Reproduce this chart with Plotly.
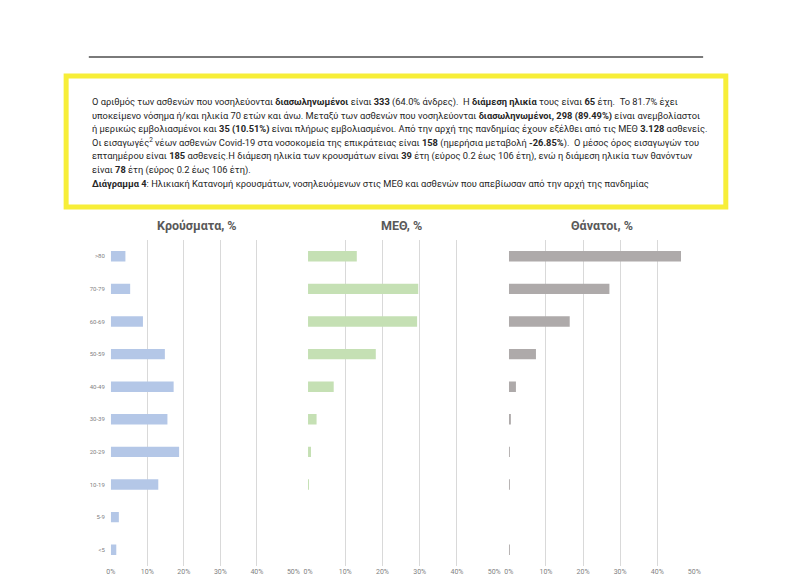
import plotly.graph_objects as go

W, H = 789, 588

age_groups = [">80", "70-79", "60-69", "50-59", "40-49", "30-39", "20-29", "10-19", "5-9", "<5"]
cases_pct = [4.0, 5.3, 8.8, 14.8, 17.2, 15.5, 18.7, 13.0, 2.2, 1.5]
icu_pct = [13.1, 29.6, 29.3, 18.2, 6.9, 2.3, 0.8, 0.15, 0.0, 0.0]
deaths_pct = [46.4, 27.1, 16.4, 7.3, 1.9, 0.5, 0.15, 0.1, 0.0, 0.1]
panel_titles = ["Κρούσματα, %", "ΜΕΘ, %", "Θάνατοι, %"]
bar_colors = ["#b4c7e7", "#c5e0b4", "#aeaaaa"]
x_ticks = [0, 10, 20, 30, 40, 50]
x_tick_labels = ["0%", "10%", "20%", "30%", "40%", "50%"]

text_lines = [
    "Ο αριθμός των ασθενών που νοσηλεύονται <b>διασωληνωμένοι</b> είναι <b>333</b> (64.0% άνδρες).  Η <b>διάμεση ηλικία</b> τους είναι <b>65</b> έτη.  Το 81.7% έχει",
    "υποκείμενο νόσημα ή/και ηλικία 70 ετών και άνω. Μεταξύ των ασθενών που νοσηλεύονται <b>διασωληνωμένοι, 298 (89.49%)</b> είναι ανεμβολίαστοι",
    "ή μερικώς εμβολιασμένοι και <b>35 (10.51%)</b> είναι πλήρως εμβολιασμένοι. Από την αρχή της πανδημίας έχουν εξέλθει από τις ΜΕΘ <b>3.128</b> ασθενείς.",
    "Οι εισαγωγές<sup>2</sup> νέων ασθενών Covid-19 στα νοσοκομεία της επικράτειας είναι <b>158</b> (ημερήσια μεταβολή <b>-26.85%</b>).  Ο μέσος όρος εισαγωγών του",
    "επταημέρου είναι <b>185</b> ασθενείς.Η διάμεση ηλικία των κρουσμάτων είναι <b>39</b> έτη (εύρος 0.2 έως 106 έτη), ενώ η διάμεση ηλικία των θανόντων",
    "είναι <b>78</b> έτη (εύρος 0.2 έως 106 έτη).",
    "<b>Διάγραμμα 4</b>: Ηλικιακή Κατανομή κρουσμάτων, νοσηλευόμενων στις ΜΕΘ και ασθενών που απεβίωσαν από την αρχή της πανδημίας",
]


def px(x):
    return x / W


def py(y):
    return 1 - y / H


domains = [(107.3, 292.7), (307.3, 496.3), (511.0, 699.3)]
series = [cases_pct, icu_pct, deaths_pct]
plot_top, plot_bot = 240, 566

fig = go.Figure()
for i, (vals, col) in enumerate(zip(series, bar_colors)):
    sfx = "" if i == 0 else str(i + 1)
    fig.add_trace(go.Bar(
        x=vals, y=age_groups, orientation="h",
        marker=dict(color=col, line=dict(width=0)),
        xaxis="x" + sfx, yaxis="y" + sfx, showlegend=False,
        hoverinfo="x+y",
    ))
    ax = dict(
        domain=[px(domains[i][0]), px(domains[i][1])],
        range=[0, 50.05], tickvals=x_ticks, ticktext=x_tick_labels,
        showgrid=True, gridcolor="#d9d9d9", gridwidth=1,
        zeroline=False, showline=False, ticks="",
        tickfont=dict(family="Roboto, Arial", size=7, color="#7f7f7f"),
        anchor="y" + sfx, fixedrange=True,
    )
    ay = dict(
        domain=[py(plot_bot), py(plot_top)],
        categoryorder="array", categoryarray=age_groups[::-1],
        showgrid=False, zeroline=False, showline=False, ticks="",
        showticklabels=(i == 0), ticklabelstandoff=5,
        tickfont=dict(family="Roboto, Arial", size=6, color="#7f7f7f"),
        anchor="x" + sfx, fixedrange=True,
    )
    fig.update_layout(**{"xaxis" + sfx: ax, "yaxis" + sfx: ay})
    fig.add_annotation(
        x=px((domains[i][0] + domains[i][1]) / 2 - (5 if i == 0 else 0)), y=py(225),
        xref="paper", yref="paper", text="<b>" + panel_titles[i] + "</b>",
        showarrow=False, xanchor="center", yanchor="middle",
        font=dict(family="Roboto, Arial", size=12.5, color="#595959"),
    )

# text block
for k, line in enumerate(text_lines):
    fig.add_annotation(
        x=px(86), y=py(102 + 13.6 * k), xref="paper", yref="paper",
        text=line, showarrow=False, xanchor="left", yanchor="middle", align="left",
        font=dict(family="Roboto, Arial", size=9.3, color="#262626"),
    )

fig.update_layout(
    width=W, height=H, margin=dict(l=0, r=0, t=0, b=0),
    paper_bgcolor="white", plot_bgcolor="white", bargap=0.68,
    shapes=[
        dict(type="line", xref="paper", yref="paper", x0=px(85), x1=px(708), y0=py(57), y1=py(57),
             line=dict(color="#7a7a7a", width=2)),
        dict(type="rect", xref="paper", yref="paper", x0=px(62), x1=px(731), y0=py(207), y1=py(76),
             line=dict(color="#f7ee38", width=5), fillcolor="rgba(0,0,0,0)"),
    ],
)

fig.write_html("out.html", config={"displayModeBar": False},
               post_script="document.body.style.margin='0';document.body.style.overflow='hidden';")
